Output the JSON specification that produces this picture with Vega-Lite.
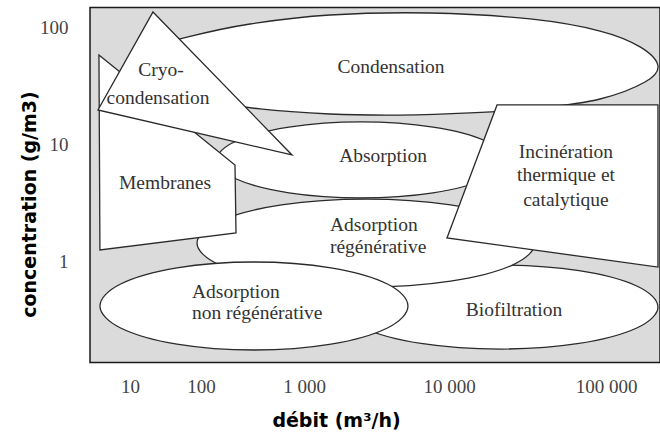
{
  "$schema": "https://vega.github.io/schema/vega-lite/v6.json",
  "width": 570,
  "height": 355,
  "autosize": {"type": "none"},
  "padding": {"left": 90, "top": 7.5, "right": 0, "bottom": 69.5},
  "background": "white",
  "config": {"view": {"fill": "#dbdbdb", "stroke": "#1a1a1a", "strokeWidth": 1.5}},
  "datasets": {
    "formes": [
      {"forme": "Condensation", "ordre": 1, "log_debit": 5.331, "log_conc": 1.675},
      {"forme": "Condensation", "ordre": 2, "log_debit": 5.248, "log_conc": 1.538},
      {"forme": "Condensation", "ordre": 3, "log_debit": 4.962, "log_conc": 1.393},
      {"forme": "Condensation", "ordre": 4, "log_debit": 4.580, "log_conc": 1.316},
      {"forme": "Condensation", "ordre": 5, "log_debit": 4.134, "log_conc": 1.274},
      {"forme": "Condensation", "ordre": 6, "log_debit": 3.662, "log_conc": 1.256},
      {"forme": "Condensation", "ordre": 7, "log_debit": 3.179, "log_conc": 1.265},
      {"forme": "Condensation", "ordre": 8, "log_debit": 2.573, "log_conc": 1.308},
      {"forme": "Condensation", "ordre": 9, "log_debit": 1.845, "log_conc": 1.402},
      {"forme": "Condensation", "ordre": 10, "log_debit": 1.211, "log_conc": 1.530},
      {"forme": "Condensation", "ordre": 11, "log_debit": 1.028, "log_conc": 1.675},
      {"forme": "Condensation", "ordre": 12, "log_debit": 1.254, "log_conc": 1.812},
      {"forme": "Condensation", "ordre": 13, "log_debit": 1.817, "log_conc": 1.923},
      {"forme": "Condensation", "ordre": 14, "log_debit": 2.476, "log_conc": 2.034},
      {"forme": "Condensation", "ordre": 15, "log_debit": 3.179, "log_conc": 2.111},
      {"forme": "Condensation", "ordre": 16, "log_debit": 3.869, "log_conc": 2.128},
      {"forme": "Condensation", "ordre": 17, "log_debit": 4.516, "log_conc": 2.077},
      {"forme": "Condensation", "ordre": 18, "log_debit": 4.962, "log_conc": 1.974},
      {"forme": "Condensation", "ordre": 19, "log_debit": 5.217, "log_conc": 1.838},

      {"forme": "Biofiltration", "ordre": 1, "log_debit": 5.331, "log_conc": -0.385},
      {"forme": "Biofiltration", "ordre": 2, "log_debit": 5.196, "log_conc": -0.564},
      {"forme": "Biofiltration", "ordre": 3, "log_debit": 4.828, "log_conc": -0.696},
      {"forme": "Biofiltration", "ordre": 4, "log_debit": 4.325, "log_conc": -0.744},
      {"forme": "Biofiltration", "ordre": 5, "log_debit": 3.807, "log_conc": -0.696},
      {"forme": "Biofiltration", "ordre": 6, "log_debit": 3.408, "log_conc": -0.564},
      {"forme": "Biofiltration", "ordre": 7, "log_debit": 3.262, "log_conc": -0.385},
      {"forme": "Biofiltration", "ordre": 8, "log_debit": 3.408, "log_conc": -0.205},
      {"forme": "Biofiltration", "ordre": 9, "log_debit": 3.807, "log_conc": -0.074},
      {"forme": "Biofiltration", "ordre": 10, "log_debit": 4.325, "log_conc": -0.026},
      {"forme": "Biofiltration", "ordre": 11, "log_debit": 4.828, "log_conc": -0.074},
      {"forme": "Biofiltration", "ordre": 12, "log_debit": 5.196, "log_conc": -0.205},

      {"forme": "Absorption", "ordre": 1, "log_debit": 4.357, "log_conc": 0.872},
      {"forme": "Absorption", "ordre": 2, "log_debit": 4.234, "log_conc": 0.709},
      {"forme": "Absorption", "ordre": 3, "log_debit": 3.890, "log_conc": 0.591},
      {"forme": "Absorption", "ordre": 4, "log_debit": 3.393, "log_conc": 0.547},
      {"forme": "Absorption", "ordre": 5, "log_debit": 2.854, "log_conc": 0.591},
      {"forme": "Absorption", "ordre": 6, "log_debit": 2.343, "log_conc": 0.709},
      {"forme": "Absorption", "ordre": 7, "log_debit": 2.155, "log_conc": 0.872},
      {"forme": "Absorption", "ordre": 8, "log_debit": 2.343, "log_conc": 1.034},
      {"forme": "Absorption", "ordre": 9, "log_debit": 2.854, "log_conc": 1.153},
      {"forme": "Absorption", "ordre": 10, "log_debit": 3.393, "log_conc": 1.197},
      {"forme": "Absorption", "ordre": 11, "log_debit": 3.890, "log_conc": 1.153},
      {"forme": "Absorption", "ordre": 12, "log_debit": 4.234, "log_conc": 1.034},

      {"forme": "Adsorption régénérative", "ordre": 1, "log_debit": 4.548, "log_conc": 0.162},
      {"forme": "Adsorption régénérative", "ordre": 2, "log_debit": 4.404, "log_conc": -0.026},
      {"forme": "Adsorption régénérative", "ordre": 3, "log_debit": 4.010, "log_conc": -0.163},
      {"forme": "Adsorption régénérative", "ordre": 4, "log_debit": 3.428, "log_conc": -0.214},
      {"forme": "Adsorption régénérative", "ordre": 5, "log_debit": 2.782, "log_conc": -0.163},
      {"forme": "Adsorption régénérative", "ordre": 6, "log_debit": 2.181, "log_conc": -0.026},
      {"forme": "Adsorption régénérative", "ordre": 7, "log_debit": 1.944, "log_conc": 0.162},
      {"forme": "Adsorption régénérative", "ordre": 8, "log_debit": 2.181, "log_conc": 0.350},
      {"forme": "Adsorption régénérative", "ordre": 9, "log_debit": 2.782, "log_conc": 0.488},
      {"forme": "Adsorption régénérative", "ordre": 10, "log_debit": 3.428, "log_conc": 0.538},
      {"forme": "Adsorption régénérative", "ordre": 11, "log_debit": 4.010, "log_conc": 0.488},
      {"forme": "Adsorption régénérative", "ordre": 12, "log_debit": 4.404, "log_conc": 0.350},

      {"forme": "Adsorption non régénérative", "ordre": 1, "log_debit": 3.717, "log_conc": -0.376},
      {"forme": "Adsorption non régénérative", "ordre": 2, "log_debit": 3.575, "log_conc": -0.564},
      {"forme": "Adsorption non régénérative", "ordre": 3, "log_debit": 3.186, "log_conc": -0.702},
      {"forme": "Adsorption non régénérative", "ordre": 4, "log_debit": 2.515, "log_conc": -0.752},
      {"forme": "Adsorption non régénérative", "ordre": 5, "log_debit": 1.662, "log_conc": -0.702},
      {"forme": "Adsorption non régénérative", "ordre": 6, "log_debit": 0.868, "log_conc": -0.564},
      {"forme": "Adsorption non régénérative", "ordre": 7, "log_debit": 0.577, "log_conc": -0.376},
      {"forme": "Adsorption non régénérative", "ordre": 8, "log_debit": 0.868, "log_conc": -0.188},
      {"forme": "Adsorption non régénérative", "ordre": 9, "log_debit": 1.662, "log_conc": -0.050},
      {"forme": "Adsorption non régénérative", "ordre": 10, "log_debit": 2.515, "log_conc": 0.0},
      {"forme": "Adsorption non régénérative", "ordre": 11, "log_debit": 3.186, "log_conc": -0.050},
      {"forme": "Adsorption non régénérative", "ordre": 12, "log_debit": 3.575, "log_conc": -0.188},

      {"forme": "Membranes", "ordre": 1, "log_debit": 0.563, "log_conc": 1.769},
      {"forme": "Membranes", "ordre": 2, "log_debit": 2.330, "log_conc": 0.829},
      {"forme": "Membranes", "ordre": 3, "log_debit": 2.340, "log_conc": 0.248},
      {"forme": "Membranes", "ordre": 4, "log_debit": 0.577, "log_conc": 0.103},

      {"forme": "Cryo-condensation", "ordre": 1, "log_debit": 1.324, "log_conc": 2.137},
      {"forme": "Cryo-condensation", "ordre": 2, "log_debit": 2.883, "log_conc": 0.915},
      {"forme": "Cryo-condensation", "ordre": 3, "log_debit": 0.549, "log_conc": 1.299},

      {"forme": "Incinération", "ordre": 1, "log_debit": 4.306, "log_conc": 1.342},
      {"forme": "Incinération", "ordre": 2, "log_debit": 5.331, "log_conc": 1.342},
      {"forme": "Incinération", "ordre": 3, "log_debit": 5.331, "log_conc": -0.043},
      {"forme": "Incinération", "ordre": 4, "log_debit": 3.986, "log_conc": 0.205}
    ],
    "etiquettes_centrees": [
      {"texte": "Condensation", "log_debit": 3.600, "log_conc": 1.667},
      {"texte": "Cryo-", "log_debit": 1.437, "log_conc": 1.641},
      {"texte": "condensation", "log_debit": 1.394, "log_conc": 1.402},
      {"texte": "Membranes", "log_debit": 1.493, "log_conc": 0.675},
      {"texte": "Absorption", "log_debit": 3.545, "log_conc": 0.906},
      {"texte": "Incinération", "log_debit": 4.745, "log_conc": 0.940},
      {"texte": "thermique et", "log_debit": 4.745, "log_conc": 0.744},
      {"texte": "catalytique", "log_debit": 4.745, "log_conc": 0.530},
      {"texte": "Biofiltration", "log_debit": 4.414, "log_conc": -0.410}
    ],
    "etiquettes_gauche": [
      {"texte": "Adsorption", "log_debit": 3.179, "log_conc": 0.316},
      {"texte": "régénérative", "log_debit": 3.179, "log_conc": 0.128},
      {"texte": "Adsorption", "log_debit": 1.873, "log_conc": -0.256},
      {"texte": "non régénérative", "log_debit": 1.873, "log_conc": -0.436}
    ]
  },
  "encoding": {
    "x": {
      "field": "log_debit",
      "type": "quantitative",
      "scale": {"domain": [0.437, 1, 2, 3, 4, 5, 5.344], "range": [0, 40, 111, 214, 359, 516, 570], "nice": false, "zero": false},
      "axis": {
        "values": [1, 2, 3, 4, 5],
        "labelExpr": "datum.value == 1 ? '10' : datum.value == 2 ? '100' : datum.value == 3 ? '1 000' : datum.value == 4 ? '10 000' : '100 000'",
        "ticks": false, "tickSize": 0, "domain": false, "grid": false,
        "labelFont": "Liberation Serif", "labelFontSize": 19, "labelColor": "#444444",
        "labelPadding": 24, "labelBaseline": "middle", "labelFlush": false, "labelOverlap": false,
        "title": "débit (m³/h)", "titleFont": "DejaVu Sans", "titleFontSize": 19, "titleFontWeight": "bold", "titleColor": "#000000",
        "titleX": 246, "titleY": 58, "titleBaseline": "middle", "titleAlign": "center"
      }
    },
    "y": {
      "field": "log_conc",
      "type": "quantitative",
      "scale": {"domain": [-0.859, 2.175], "nice": false, "zero": false},
      "axis": {
        "values": [0, 1, 2],
        "labelExpr": "datum.value == 2 ? '100' : datum.value == 1 ? '10' : '1'",
        "ticks": false, "tickSize": 0, "domain": false, "grid": false,
        "labelFont": "Liberation Serif", "labelFontSize": 19, "labelColor": "#444444",
        "labelPadding": 22, "labelFlush": false, "labelOverlap": false,
        "title": "concentration (g/m3)", "titleFont": "DejaVu Sans", "titleFontSize": 19, "titleFontWeight": "bold", "titleColor": "#000000",
        "titleX": -61, "titleY": 196.5, "titleAngle": -90, "titleBaseline": "middle", "titleAlign": "center"
      }
    }
  },
  "layer": [
    {"data": {"name": "formes"}, "transform": [{"filter": "datum.forme === 'Condensation'"}],
     "mark": {"type": "line", "interpolate": "cardinal-closed", "fill": "white", "stroke": "#2a2a2a", "strokeWidth": 1.3},
     "encoding": {"order": {"field": "ordre", "type": "quantitative"}}},
    {"data": {"name": "formes"}, "transform": [{"filter": "datum.forme === 'Biofiltration'"}],
     "mark": {"type": "line", "interpolate": "cardinal-closed", "fill": "white", "stroke": "#2a2a2a", "strokeWidth": 1.3},
     "encoding": {"order": {"field": "ordre", "type": "quantitative"}}},
    {"data": {"name": "formes"}, "transform": [{"filter": "datum.forme === 'Absorption'"}],
     "mark": {"type": "line", "interpolate": "cardinal-closed", "fill": "white", "stroke": "#2a2a2a", "strokeWidth": 1.3},
     "encoding": {"order": {"field": "ordre", "type": "quantitative"}}},
    {"data": {"name": "formes"}, "transform": [{"filter": "datum.forme === 'Adsorption régénérative'"}],
     "mark": {"type": "line", "interpolate": "cardinal-closed", "fill": "white", "stroke": "#2a2a2a", "strokeWidth": 1.3},
     "encoding": {"order": {"field": "ordre", "type": "quantitative"}}},
    {"data": {"name": "formes"}, "transform": [{"filter": "datum.forme === 'Adsorption non régénérative'"}],
     "mark": {"type": "line", "interpolate": "cardinal-closed", "fill": "white", "stroke": "#2a2a2a", "strokeWidth": 1.3},
     "encoding": {"order": {"field": "ordre", "type": "quantitative"}}},
    {"data": {"name": "formes"}, "transform": [{"filter": "datum.forme === 'Membranes'"}],
     "mark": {"type": "line", "interpolate": "linear-closed", "fill": "white", "stroke": "#2a2a2a", "strokeWidth": 1.3},
     "encoding": {"order": {"field": "ordre", "type": "quantitative"}}},
    {"data": {"name": "formes"}, "transform": [{"filter": "datum.forme === 'Cryo-condensation'"}],
     "mark": {"type": "line", "interpolate": "linear-closed", "fill": "white", "stroke": "#2a2a2a", "strokeWidth": 1.3},
     "encoding": {"order": {"field": "ordre", "type": "quantitative"}}},
    {"data": {"name": "formes"}, "transform": [{"filter": "datum.forme === 'Incinération'"}],
     "mark": {"type": "line", "interpolate": "linear-closed", "fill": "white", "stroke": "#2a2a2a", "strokeWidth": 1.3},
     "encoding": {"order": {"field": "ordre", "type": "quantitative"}}},
    {"data": {"name": "etiquettes_centrees"},
     "mark": {"type": "text", "align": "center", "baseline": "middle", "font": "Liberation Serif", "fontSize": 19.5, "color": "#333333"},
     "encoding": {"text": {"field": "texte", "type": "nominal"}}},
    {"data": {"name": "etiquettes_gauche"},
     "mark": {"type": "text", "align": "left", "baseline": "middle", "font": "Liberation Serif", "fontSize": 19.5, "color": "#333333"},
     "encoding": {"text": {"field": "texte", "type": "nominal"}}}
  ]
}
